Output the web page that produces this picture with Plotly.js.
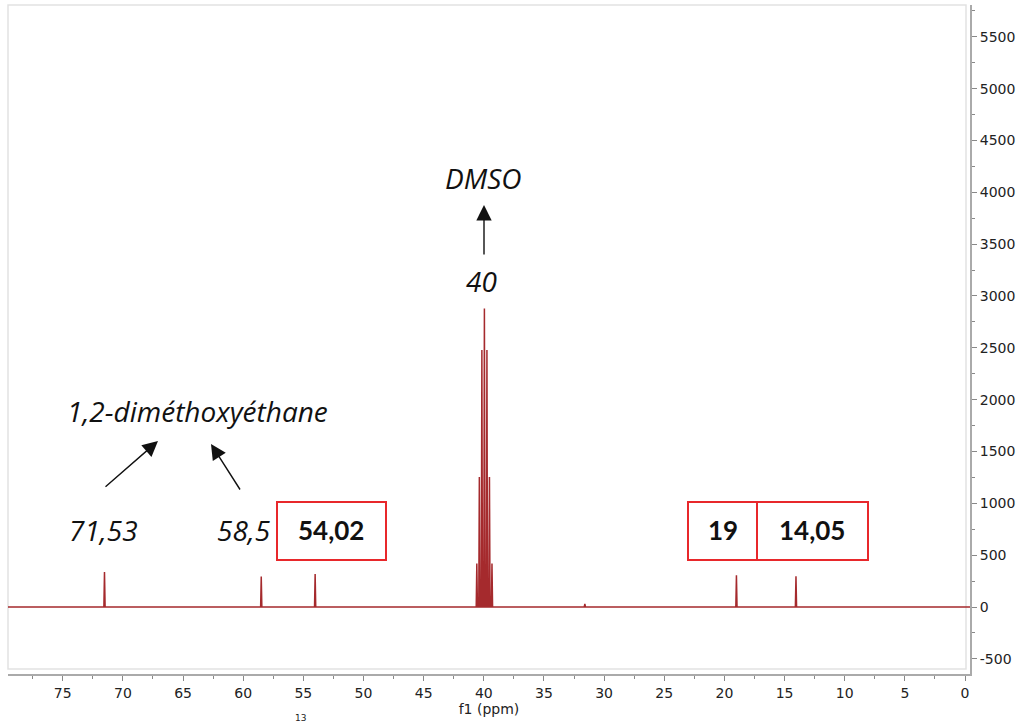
<!DOCTYPE html>
<html>
<head>
<meta charset="utf-8">
<script src="https://cdn.plot.ly/plotly-3.0.1.min.js"></script>
<style>html,body{margin:0;padding:0;background:#fff;}#chart{width:1022px;height:726px;}</style>
</head>
<body>
<div id="chart"></div>
<script>
// Peak list (ppm, intensity)
const peakPpm    = [71.53, 58.5, 54.02, 40.58, 40.37, 40.16, 39.95, 39.74, 39.53, 39.32, 31.6, 19.0, 14.05];
const peakHeight = [338,   293,  318,   420,   1255,  2480,  2880,  2480,  1255,  420,   30,   305,  296];
const xTickVals  = [75, 70, 65, 60, 55, 50, 45, 40, 35, 30, 25, 20, 15, 10, 5, 0];
const yTickVals  = [-500, 0, 500, 1000, 1500, 2000, 2500, 3000, 3500, 4000, 4500, 5000, 5500];
const peakLabels = ["71,53", "58,5", "54,02", "40", "19", "14,05"];

// Build the spectrum trace from the peak list
const halfWidth = 0.05;
const specX = [80], specY = [0];
peakPpm.forEach((p, i) => {
  specX.push(p + halfWidth, p, p - halfWidth);
  specY.push(0, peakHeight[i], 0);
});
specX.push(-1); specY.push(0);

// plot area geometry in pixels
const L = 8, R = 970, T = 5, B = 674;
const px = v => (v - L) / (R - L);
const py = v => (B - v) / (B - T);

const lblFont = {family: "'Open Sans', Lato, sans-serif", size: 28, color: "#111"};
const boldFont = {family: "Lato, 'Open Sans', sans-serif", size: 26, color: "#111", weight: "bold"};

function txt(t, x, y, font, style) {
  return {text: style === 'i' ? '<i>' + t + '</i>' : '<b>' + t + '</b>',
    xref: 'paper', yref: 'paper', x: px(x), y: py(y), xanchor: 'center', yanchor: 'middle',
    showarrow: false, font: font};
}
function arrow(x0, y0, x1, y1) {
  return {text: '', xref: 'paper', yref: 'paper', x: px(x1), y: py(y1),
    axref: 'pixel', ayref: 'pixel', ax: x0 - x1, ay: y0 - y1,
    showarrow: true, arrowhead: 2, arrowsize: 2.2, arrowwidth: 1.4, arrowcolor: '#111', standoff: 0};
}
function box(x0, y0, x1, y1) {
  return {type: 'rect', xref: 'paper', yref: 'paper', x0: px(x0), x1: px(x1), y0: py(y1), y1: py(y0),
    line: {color: '#e8282b', width: 2}, fillcolor: 'rgba(0,0,0,0)'};
}

const annotations = [
  txt("DMSO", 483, 178, lblFont, 'i'),
  arrow(484, 256, 484, 205),
  txt(peakLabels[3], 481, 281, lblFont, 'i'),
  txt("1,2-diméthoxyéthane", 197, 411, lblFont, 'i'),
  arrow(104, 488, 158, 441),
  arrow(241, 491, 211, 444),
  txt(peakLabels[0], 103, 530, lblFont, 'i'),
  txt(peakLabels[1], 244, 530, lblFont, 'i'),
  txt(peakLabels[2], 331, 530, boldFont, 'b'),
  txt(peakLabels[4], 723, 530, boldFont, 'b'),
  txt(peakLabels[5], 812, 530, boldFont, 'b'),
  {text: '13', xref: 'paper', yref: 'paper', x: px(300), y: py(725), xanchor: 'center', yanchor: 'bottom',
   showarrow: false, font: {family: 'DejaVu Sans', size: 9, color: '#222'}}
];

const shapes = [
  {type: 'rect', xref: 'paper', yref: 'paper', x0: 0, x1: px(966), y0: py(669), y1: 1,
   line: {color: '#e2e2e2', width: 1.5}, fillcolor: 'rgba(0,0,0,0)', layer: 'below'},
  box(277, 502, 386, 560),
  box(688, 502, 757, 560),
  box(757, 502, 868, 560)
];

const tickFont = {family: "'DejaVu Sans', Verdana, sans-serif", size: 14, color: '#222'};

const data = [{
  x: specX, y: specY, type: 'scatter', mode: 'lines',
  line: {color: '#a52a2d', width: 1.5}, hoverinfo: 'skip'
}];

const layout = {
  width: 1022, height: 726,
  margin: {l: L, r: 1022 - R, t: T, b: 726 - B, pad: 0},
  paper_bgcolor: '#fff', plot_bgcolor: '#fff',
  showlegend: false,
  xaxis: {
    range: [(965 - L) / 12.03, (965 - R) / 12.03],
    tickvals: xTickVals, ticktext: xTickVals.map(String),
    ticks: 'outside', ticklen: 5, tickcolor: '#888', tickwidth: 1,
    minor: {dtick: 2.5, ticks: 'outside', ticklen: 3, tickcolor: '#888'},
    showline: true, linecolor: '#aaa', linewidth: 2,
    showgrid: false, zeroline: false, tickfont: tickFont,
    title: {text: 'f1 (ppm)', font: tickFont, standoff: 2}
  },
  yaxis: {
    side: 'right',
    range: [(607 - B) / 0.10367, (607 - T) / 0.10367],
    tickvals: yTickVals, ticktext: yTickVals.map(String),
    ticks: 'outside', ticklen: 5, tickcolor: '#888', tickwidth: 1,
    minor: {dtick: 250, ticks: 'outside', ticklen: 3, tickcolor: '#888'},
    showline: true, linecolor: '#aaa', linewidth: 2,
    showgrid: false, zeroline: false, tickfont: tickFont
  },
  annotations: annotations,
  shapes: shapes
};

Plotly.newPlot('chart', data, layout, {displayModeBar: false, staticPlot: true});
</script>
</body>
</html>
